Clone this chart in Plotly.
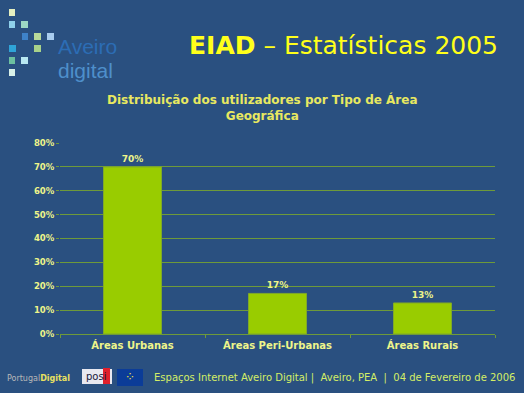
import plotly.graph_objects as go

categories = ["Áreas Urbanas", "Áreas Peri-Urbanas", "Áreas Rurais"]
values = [0.70, 0.17, 0.13]
value_labels = ["70%", "17%", "13%"]
tick_vals = [0, 0.1, 0.2, 0.3, 0.4, 0.5, 0.6, 0.7, 0.8]
tick_text = ["0%", "10%", "20%", "30%", "40%", "50%", "60%", "70%", "80%"]

BG = "#2A5080"
GRID = "#6E9A3A"
BAR = "#99CC00"
LABEL = "#EEF58A"
FONT = "DejaVu Sans"

fig = go.Figure()
fig.add_trace(go.Bar(
    x=categories, y=values, width=0.4,
    marker=dict(color=BAR, line=dict(color="#7FA82A", width=1)),
    text=value_labels, textposition="outside", cliponaxis=False,
    textfont=dict(family=FONT, size=9, color=LABEL, weight="bold"),
))

W, H = 524, 393
shapes = []
def px_rect(x0, y0, x1, y1, color):
    shapes.append(dict(type="rect", xref="paper", yref="paper",
                       x0=(x0 - 60) / 435, x1=(x1 - 60) / 435,
                       y0=(334 - y1) / 191, y1=(334 - y0) / 191,
                       fillcolor=color, line=dict(width=0), layer="above"))

# logo squares
sq = [
    (9, 9, 15, 16, "#E4EFC0"),
    (9, 21, 15, 28, "#8FD0EA"), (21, 21, 28, 28, "#9DD8C4"),
    (22, 33, 28, 40, "#3E82C8"), (34, 33, 41, 40, "#B8DA9A"), (47, 33, 54, 40, "#A8CCEE"),
    (9, 45, 16, 52, "#2FA4D8"), (34, 45, 41, 52, "#A8D28A"),
    (9, 57, 15, 64, "#6CC0A0"), (21, 57, 28, 64, "#B8E8F2"),
    (9, 69, 15, 76, "#D8F0E8"),
]
for x0, y0, x1, y1, c in sq:
    px_rect(x0, y0, x1, y1, c)

# EU flag
px_rect(117, 369, 143, 386, "#0B3C98")
# posi box
px_rect(82, 369, 112, 384, "#E8E8F0")
px_rect(103, 368, 110, 384, "#E0202C")

annotations = [
    dict(text="<b>EIAD</b> – Estatísticas 2005", x=500, y=45, xanchor="right", yanchor="middle",
         font=dict(family=FONT, size=25, color="#FFFF1A")),
    dict(text="<b>Distribuição dos utilizadores por Tipo de Área<br>Geográfica</b>", x=262, y=107,
         xanchor="center", yanchor="middle",
         font=dict(family=FONT, size=12, color="#E8E860")),
    dict(text="Aveiro", x=56, y=47, xanchor="left", yanchor="middle",
         font=dict(family="Liberation Sans", size=21, color="#2C6DB5")),
    dict(text="digital", x=56, y=70, xanchor="left", yanchor="middle",
         font=dict(family="Liberation Sans", size=21, color="#4E8FCB")),
    dict(text="Espaços Internet Aveiro Digital |  Aveiro, PEA  |  04 de Fevereiro de 2006",
         x=517, y=378, xanchor="right", yanchor="middle",
         font=dict(family=FONT, size=10, color="#D4EE66")),
    dict(text="Portugal<b><span style='color:#E8E060'>Digital</span></b>", x=5, y=378,
         xanchor="left", yanchor="middle",
         font=dict(family=FONT, size=8, color="#B8B8B8")),
    dict(text="posi", x=84, y=376, xanchor="left", yanchor="middle",
         font=dict(family=FONT, size=10, color="#1A1A3A")),
    dict(text="⁘", x=130, y=377, xanchor="center", yanchor="middle",
         font=dict(family=FONT, size=12, color="#F0E040")),
]
for a in annotations:
    a["x"] = (a["x"] - 60) / 435
    a["y"] = (334 - a["y"]) / 191
    a["xref"] = "paper"
    a["yref"] = "paper"
    a["showarrow"] = False

fig.update_layout(
    width=W, height=H,
    margin=dict(l=60, r=29, t=143, b=59),
    paper_bgcolor=BG, plot_bgcolor=BG,
    showlegend=False,
    shapes=shapes,
    annotations=annotations,
    xaxis=dict(type="category", showgrid=False, showline=True, linecolor=GRID, linewidth=1,
               ticks="outside", tickson="boundaries", ticklen=3, tickcolor=GRID,
               tickfont=dict(family=FONT, size=10, color=LABEL, weight="bold"),
               ticklabelstandoff=2),
    yaxis=dict(range=[0, 0.8], tickvals=tick_vals, ticktext=tick_text,
               showgrid=True, gridcolor=GRID, gridwidth=1, zeroline=False,
               ticks="outside", ticklen=3, tickcolor=GRID, showline=False,
               tickfont=dict(family=FONT, size=8.5, color=LABEL, weight="bold")),
    font=dict(family=FONT, color=LABEL),
)

fig.write_html("out.html", config={"displayModeBar": False},
               post_script="document.body.style.margin='0';document.body.style.background='#2A5080';")
